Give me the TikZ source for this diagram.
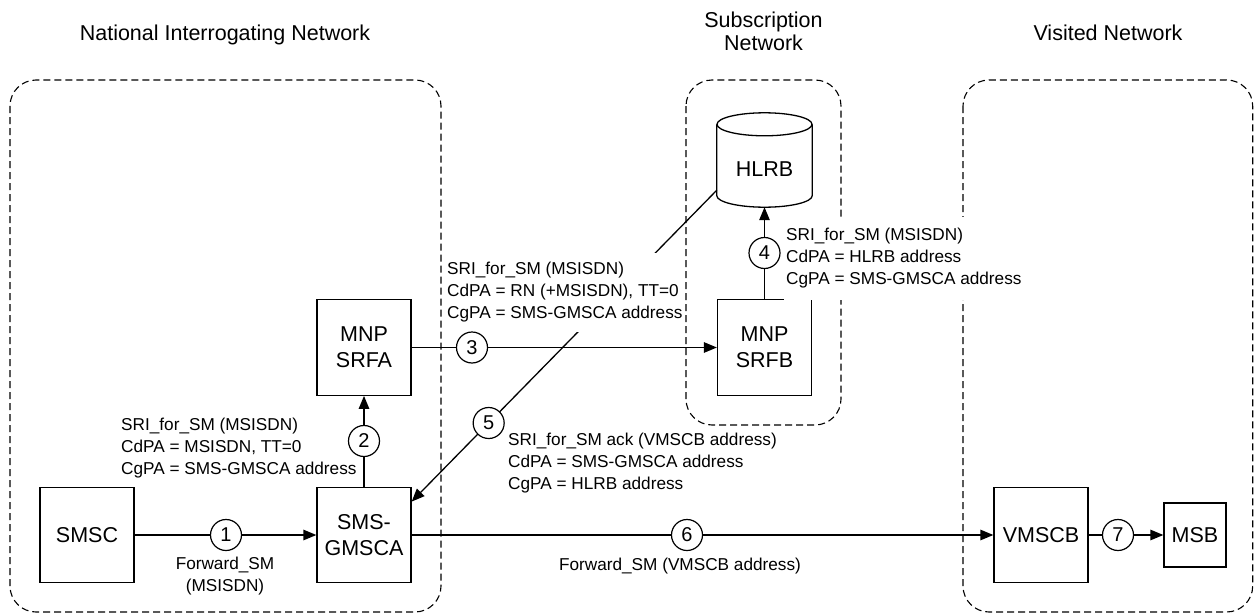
\documentclass[tikz,border=0pt]{standalone}
\usepackage{fontspec}
\setmainfont{Liberation Sans}
\usetikzlibrary{arrows.meta,calc}
\newcommand{\nodefont}{\fontsize{21.5}{26}\selectfont}
\newcommand{\ttlfont}{\fontsize{21.5}{23}\selectfont}
\newcommand{\lblfont}{\fontsize{17.2}{22}\selectfont}
\newcommand{\numfont}{\fontsize{20}{22}\selectfont}
\begin{document}
\begin{tikzpicture}[x=1pt,y=-1pt,
  box/.style={draw, line width=1.3pt, minimum width=94pt, minimum height=95.5pt, inner sep=0pt, align=center, font=\nodefont},
  num/.style={circle, draw, fill=white, line width=1.2pt, minimum size=31pt, inner sep=0pt, font=\numfont},
  lbl/.style={align=left, inner sep=0pt, anchor=west, font=\lblfont},
  ttl/.style={align=center, inner sep=0pt, font=\ttlfont},
  conn/.style={line width=1.3pt, -{Triangle[length=13pt,width=10.5pt]}},
  zone/.style={draw, line width=1.1pt, dash pattern=on 7pt off 4pt, rounded corners=26pt}]
\useasboundingbox (0,0) rectangle (1254,613);

% nodes
\node[box] (smsc) at (87,535) {SMSC};
\node[box] (sms) at (364,535) {SMS-\\GMSCA};
\node[box] (srfa) at (364,347.5) {MNP\\SRFA};
\node[box] (srfb) at (764.5,347.5) {MNP\\SRFB};
\node[box] (vmscb) at (1041,535) {VMSCB};
\node[box, minimum width=62pt, minimum height=64pt] (msb) at (1195,535) {MSB};
\node[minimum width=95pt, minimum height=94pt, inner sep=0pt, font=\nodefont] (hlrb) at (764.5,160) {\raisebox{-9pt}[15.4pt][0pt]{HLRB}};

% HLRB cylinder outline
\draw[line width=1.3pt] ($(hlrb.north)+(0,11.5)$) ellipse [x radius=47.5pt, y radius=11.5pt];
\draw[line width=1.3pt] ($(hlrb.north west)+(0,11.5)$) -- ($(hlrb.south west)+(0,-11.5)$)
  .. controls ($(hlrb.south west)+(0,-5.15)$) and ($(hlrb.south)+(-26.23,0)$) .. (hlrb.south)
  .. controls ($(hlrb.south)+(26.23,0)$) and ($(hlrb.south east)+(0,-5.15)$) .. ($(hlrb.south east)+(0,-11.5)$)
  -- ($(hlrb.north east)+(0,11.5)$);

% connectors
\draw[conn] (smsc.east) -- (sms.west);
\draw[conn] (sms.north) -- (srfa.south);
\draw[conn] (srfa.east) -- (srfb.west);
\draw[conn] (srfb.north) -- (hlrb.south);
\draw[conn] ($(hlrb.south west)+(0,-17)$) coordinate (h5) -- ($(sms.north east)+(0,15)$) coordinate (s5);
\draw[conn] (sms.east) -- (vmscb.west);
\draw[conn] (vmscb.east) -- (msb.west);

% label 3 (covers part of connector 5)
\node[lbl, fill=white, inner xsep=2pt, inner ysep=9.4pt] (l3) at (445,292.5)
  {SRI\_for\_SM (MSISDN)\\CdPA = RN (+MSISDN), TT=0\\CgPA = SMS-GMSCA address};

% step numbers
\node[num] (c1) at (226,535) {1};
\node[num] (c2) at (364,441) {2};
\node[num] (c3) at (472,347.5) {3};
\node[num] (c4) at (764.5,253) {4};
\node[num] (c5) at ($(h5)!0.7476!(s5)$) {5};
\node[num] (c6) at (687,535) {6};
\node[num] (c7) at (1118,535) {7};

% other labels
\node[lbl] (l2) at (121,447.7) {SRI\_for\_SM (MSISDN)\\CdPA = MSISDN, TT=0\\CgPA = SMS-GMSCA address};
\node[lbl] (l5) at (508,462.7) {SRI\_for\_SM ack (VMSCB address)\\CdPA = SMS-GMSCA address\\CgPA = HLRB address};
\node[lbl, anchor=center, align=center] (l1) at (225,576.2) {Forward\_SM\\(MSISDN)};
\node[lbl, anchor=center] (l6) at (680,565.7) {Forward\_SM (VMSCB address)};

% titles
\node[ttl] (t1) at (225,35) {National Interrogating Network};
\node[ttl] (t2) at (763.5,31.5) {Subscription\\Network};
\node[ttl] (t3) at (1108,33.2) {Visited Network};

% network zones
\draw[zone] (10,80) rectangle (441,612);
\draw[zone] (686,80) rectangle (841,425);
\draw[zone] (963,80) rectangle (1252.7,612);

% label 4 (interrupts the subscription zone border)
\node[lbl, fill=white, inner xsep=2pt, inner ysep=11pt] (l4) at (784,258.5) {SRI\_for\_SM (MSISDN)\\CdPA = HLRB address\\CgPA = SMS-GMSCA address};
\end{tikzpicture}
\end{document}
